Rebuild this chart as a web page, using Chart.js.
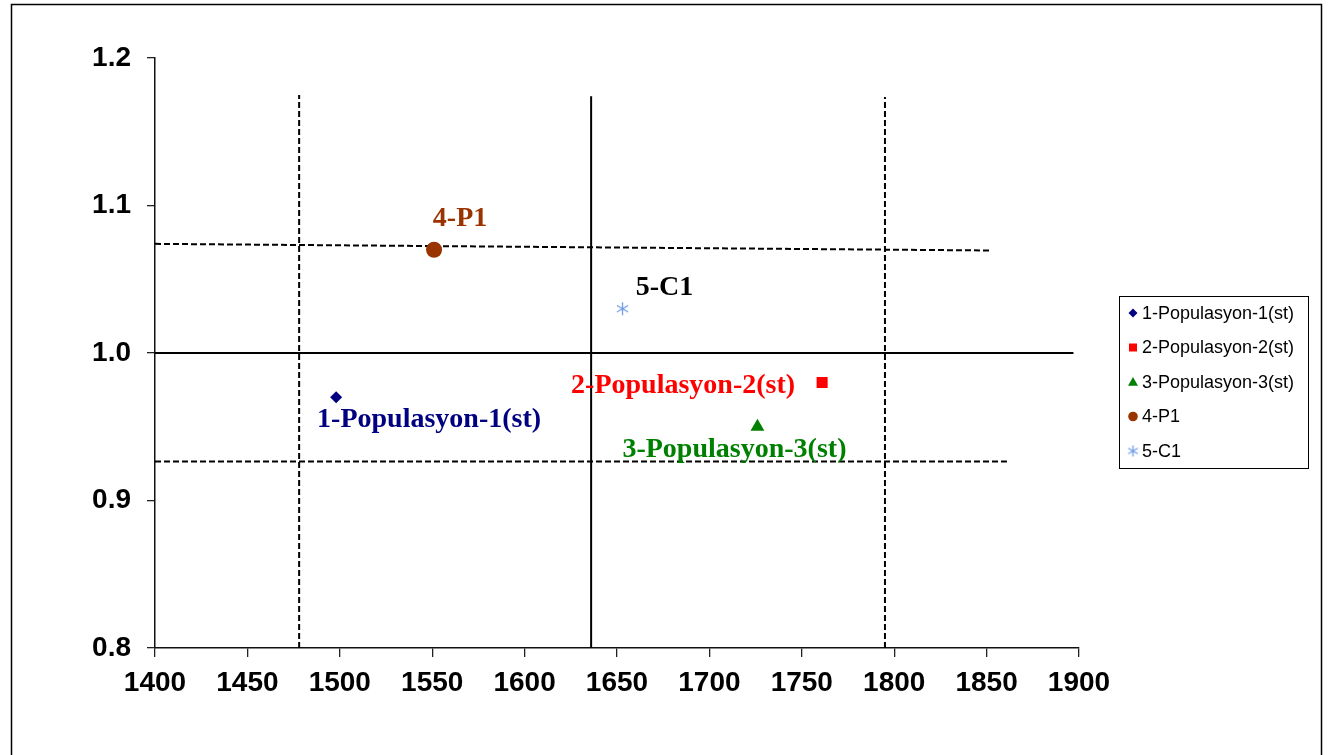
<!DOCTYPE html>
<html><head><meta charset="utf-8">
<script src="https://cdn.jsdelivr.net/npm/chart.js@4/dist/chart.umd.min.js"></script>
<style>html,body{margin:0;padding:0;background:#fff;} canvas{display:block;}</style>
</head><body>
<canvas id="c" width="1333" height="755"></canvas>
<script>
// ---- data ----
const seriesNames = ['1-Populasyon-1(st)', '2-Populasyon-2(st)', '3-Populasyon-3(st)', '4-P1', '5-C1'];
const seriesX = [1498, 1761, 1726, 1551, 1653];
const seriesY = [0.97, 0.98, 0.95, 1.07, 1.03];
const xTickValues = [1400, 1450, 1500, 1550, 1600, 1650, 1700, 1750, 1800, 1850, 1900];
const yTickValues = [0.8, 0.9, 1.0, 1.1, 1.2];
// reference lines
const vLineX = [1478, 1636, 1795];
const vLineYBottom = [0.8, 0.8, 0.8];
const vLineYTop = [1.175, 1.174, 1.1735];
const hLineXStart = [1400, 1400, 1400];
const hLineXEnd = [1852, 1897, 1861];
const hLineYStart = [1.074, 1.0, 0.9265];
const hLineYEnd = [1.0695, 1.0, 0.9265];

// ---- styles ----
const vLineSolid = [false, true, false];
const hLineSolid = [false, true, false];
const markerColors = ['#000080', '#FF0000', '#008000', '#993300', '#6F9BE8'];
const labelColors = ['#000080', '#FF0000', '#008000', '#993300', '#000000'];
const labelOffsets = [[93, 30], [-139, 10], [-23, 30], [26, -24], [42, -14]];
const markerRadius = [6, 7.8, 8, 8, 6];

function asteriskCanvas(size, color, lw) {
  const cv = document.createElement('canvas');
  cv.width = size; cv.height = size;
  const c = cv.getContext('2d');
  const r = size / 2 - 1, cx = size / 2, cy = size / 2;
  c.strokeStyle = color; c.lineWidth = lw;
  c.beginPath();
  [90, 30, 150].forEach(a => {
    const rad = a * Math.PI / 180;
    c.moveTo(cx - r * Math.cos(rad), cy - r * Math.sin(rad));
    c.lineTo(cx + r * Math.cos(rad), cy + r * Math.sin(rad));
  });
  c.stroke();
  return cv;
}
const astBig = asteriskCanvas(15, markerColors[4], 1.3);
const astSmall = asteriskCanvas(13, markerColors[4], 1.3);
const pointStyles = ['rectRot', 'rect', 'triangle', 'circle', astBig];

const datasets = [];
seriesNames.forEach((n, i) => {
  datasets.push({
    label: n,
    data: [{x: seriesX[i], y: seriesY[i]}],
    pointStyle: pointStyles[i],
    pointRadius: markerRadius[i],
    backgroundColor: markerColors[i],
    borderColor: markerColors[i],
    borderWidth: 0,
    order: 1
  });
});
vLineX.forEach((x, i) => {
  datasets.push({
    label: 'v' + i,
    data: [{x: x, y: vLineYBottom[i]}, {x: x, y: vLineYTop[i]}],
    showLine: true, pointRadius: 0, borderColor: '#000', borderWidth: 2,
    borderDash: vLineSolid[i] ? [] : [6, 3], order: 2
  });
});
hLineXStart.forEach((x, i) => {
  datasets.push({
    label: 'h' + i,
    data: [{x: x, y: hLineYStart[i]}, {x: hLineXEnd[i], y: hLineYEnd[i]}],
    showLine: true, pointRadius: 0, borderColor: '#000', borderWidth: 2,
    borderDash: hLineSolid[i] ? [] : [6, 3], order: 2
  });
});

function drawMarker(ctx, style, x, y, r, color) {
  ctx.save();
  ctx.fillStyle = color;
  ctx.beginPath();
  if (style === 'rectRot') {
    ctx.moveTo(x, y - r); ctx.lineTo(x + r, y); ctx.lineTo(x, y + r); ctx.lineTo(x - r, y); ctx.closePath(); ctx.fill();
  } else if (style === 'rect') {
    ctx.rect(x - r, y - r, 2 * r, 2 * r); ctx.fill();
  } else if (style === 'triangle') {
    ctx.moveTo(x, y - r); ctx.lineTo(x + r, y + r * 0.75); ctx.lineTo(x - r, y + r * 0.75); ctx.closePath(); ctx.fill();
  } else if (style === 'circle') {
    ctx.arc(x, y, r, 0, Math.PI * 2); ctx.fill();
  } else {
    ctx.drawImage(astSmall, x - astSmall.width / 2, y - astSmall.height / 2);
  }
  ctx.restore();
}

const framePlugin = {
  id: 'frame',
  beforeDraw(chart) {
    const ctx = chart.ctx;
    ctx.save();
    ctx.fillStyle = '#fff';
    ctx.fillRect(0, 0, chart.width, chart.height);
    ctx.strokeStyle = '#000';
    ctx.lineWidth = 1.5;
    ctx.strokeRect(11.5, 4.5, 1310, 800);
    ctx.restore();
  }
};

const labelPlugin = {
  id: 'pointLabels',
  afterDatasetsDraw(chart) {
    const ctx = chart.ctx;
    ctx.save();
    ctx.font = 'bold 28px "Liberation Serif", "Times New Roman", serif';
    ctx.textAlign = 'center';
    ctx.textBaseline = 'alphabetic';
    seriesNames.forEach((n, i) => {
      const p = chart.getDatasetMeta(i).data[0];
      ctx.fillStyle = labelColors[i];
      ctx.fillText(n, p.x + labelOffsets[i][0], p.y + labelOffsets[i][1]);
    });
    ctx.restore();
  }
};

const legendPlugin = {
  id: 'customLegend',
  afterDraw(chart) {
    const ctx = chart.ctx;
    const bx = 1119.5, by = 296.5, bw = 189, bh = 172;
    ctx.save();
    ctx.strokeStyle = '#000';
    ctx.lineWidth = 1;
    ctx.strokeRect(bx, by, bw, bh);
    ctx.font = '18px "Liberation Sans", Arial, sans-serif';
    ctx.textBaseline = 'middle';
    ctx.textAlign = 'left';
    const legendR = [4.5, 4, 5, 4.8, 0];
    seriesNames.forEach((n, i) => {
      const y = 313 + i * 34.5;
      drawMarker(ctx, typeof pointStyles[i] === 'string' ? pointStyles[i] : 'ast', 1133, y, legendR[i], markerColors[i]);
      ctx.fillStyle = '#000';
      ctx.fillText(n, 1142, y + 1);
    });
    ctx.restore();
  }
};

const tickFont = {family: '"Liberation Sans", Arial, sans-serif', size: 28, weight: 'bold'};

new Chart(document.getElementById('c'), {
  type: 'scatter',
  data: {datasets: datasets},
  options: {
    responsive: false,
    animation: false,
    devicePixelRatio: 1,
    layout: {padding: {left: 0, top: 58, right: 254, bottom: 0}},
    plugins: {legend: {display: false}, tooltip: {enabled: false}},
    scales: {
      x: {
        type: 'linear', min: 1400, max: 1900,
        afterBuildTicks: s => { s.ticks = xTickValues.map(v => ({value: v})); },
        afterFit: s => { s.height = 107; },
        grid: {display: true, drawOnChartArea: false, drawTicks: true, tickLength: 9, color: '#222', lineWidth: 1.3},
        border: {display: true, color: '#111', width: 1.5},
        ticks: {font: tickFont, color: '#000', padding: 9, maxRotation: 0, autoSkip: false, callback: v => String(v)}
      },
      y: {
        type: 'linear', min: 0.8, max: 1.2,
        afterBuildTicks: s => { s.ticks = yTickValues.map(v => ({value: v})); },
        afterFit: s => { s.width = 155; },
        grid: {display: true, drawOnChartArea: false, drawTicks: true, tickLength: 8, color: '#222', lineWidth: 1.3},
        border: {display: true, color: '#111', width: 1.5},
        ticks: {font: tickFont, color: '#000', padding: 16, callback: v => Number(v).toFixed(1)}
      }
    }
  },
  plugins: [framePlugin, labelPlugin, legendPlugin]
});
</script>
</body></html>
